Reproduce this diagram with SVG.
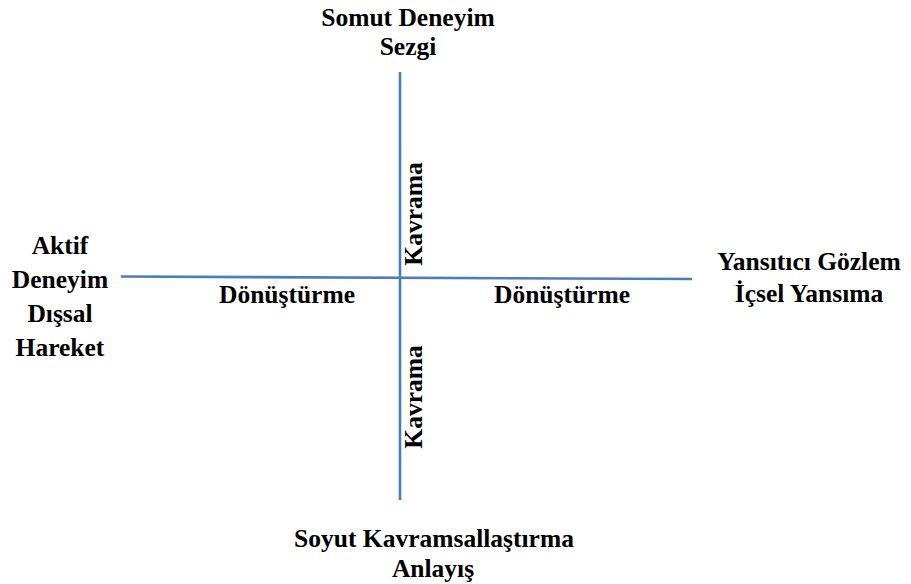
<svg xmlns="http://www.w3.org/2000/svg" width="911" height="584" viewBox="0 0 911 584">
  <style>
    .lbl { font-family: "Times New Roman", "Liberation Serif", Tinos, "DejaVu Serif", serif; font-weight: bold; font-size: 25.5px; fill: #000; text-anchor: middle; }
    .axis { stroke: #4a7ebb; stroke-width: 2.6; fill: none; stroke-linecap: butt; }
  </style>
  <rect width="911" height="584" fill="#fff"/>

  <!-- axes -->
  <g id="connectors">
    <line class="axis" x1="400" y1="72" x2="400" y2="500"/>
    <line class="axis" x1="121" y1="276.5" x2="692" y2="279"/>
  </g>

  <!-- axis labels -->
  <g id="label-kavrama-top">
    <text class="lbl" transform="translate(422,214) rotate(-90)">Kavrama</text>
  </g>
  <g id="label-kavrama-bottom">
    <text class="lbl" transform="translate(422,397) rotate(-90)">Kavrama</text>
  </g>
  <g id="label-donusturme-left">
    <text class="lbl" x="287" y="303">Dönüştürme</text>
  </g>
  <g id="label-donusturme-right">
    <text class="lbl" x="562" y="303">Dönüştürme</text>
  </g>

  <!-- pole nodes -->
  <g id="node-somut">
    <text class="lbl" x="408" y="26">Somut Deneyim</text>
    <text class="lbl" x="408" y="55">Sezgi</text>
  </g>
  <g id="node-aktif">
    <text class="lbl" x="60" y="254">Aktif</text>
    <text class="lbl" x="60" y="288">Deneyim</text>
    <text class="lbl" x="60" y="322">Dışsal</text>
    <text class="lbl" x="60" y="356">Hareket</text>
  </g>
  <g id="node-yansitici">
    <text class="lbl" x="809" y="270">Yansıtıcı Gözlem</text>
    <text class="lbl" x="809" y="302">İçsel Yansıma</text>
  </g>
  <g id="node-soyut">
    <text class="lbl" x="434" y="547">Soyut Kavramsallaştırma</text>
    <text class="lbl" x="433" y="577">Anlayış</text>
  </g>
</svg>
